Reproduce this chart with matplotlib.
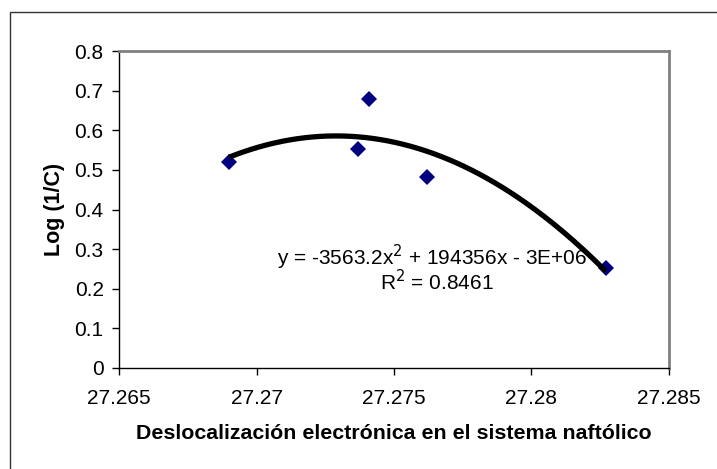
import matplotlib.pyplot as plt
import matplotlib.patches as patches
import numpy as np

plt.rcParams['font.family'] = ['Liberation Sans', 'DejaVu Sans']

# Deslocalización electrónica vs Log (1/C)
deslocalizacion = [27.2690, 27.2737, 27.2741, 27.2762, 27.2827]
log_inv_c = [0.521, 0.554, 0.679, 0.482, 0.252]

ecuacion = 'y = -3563.2x$^2$ + 194356x - 3E+06'
r2_texto = 'R$^2$ = 0.8461'
xticks = [27.265, 27.27, 27.275, 27.28, 27.285]
xtick_labels = ['27.265', '27.27', '27.275', '27.28', '27.285']
yticks = [0, 0.1, 0.2, 0.3, 0.4, 0.5, 0.6, 0.7, 0.8]
ytick_labels = ['0', '0.1', '0.2', '0.3', '0.4', '0.5', '0.6', '0.7', '0.8']

fig = plt.figure(figsize=(7.17, 4.69), dpi=100)
ax = fig.add_axes([0.166, 0.216, 0.767, 0.6746])

# marco exterior del grafico
fig.patches.append(patches.Rectangle((10 / 717, -0.1), 1.2, 1 - 12 / 469 + 0.1,
                                     transform=fig.transFigure, fill=False,
                                     edgecolor='#333333', linewidth=1.0))

# linea de tendencia polinomica de orden 2
x = np.array(deslocalizacion)
y = np.array(log_inv_c)
xc = x - x.mean()
coef = np.polyfit(xc, y, 2)
xs = np.linspace(x.min(), x.max(), 200)
ax.plot(xs, np.polyval(coef, xs - x.mean()), color='black', linewidth=3.8,
        solid_capstyle='butt', zorder=3)

ax.plot(deslocalizacion, log_inv_c, linestyle='none', marker='D',
        markersize=8, color='#000080', markeredgewidth=0, zorder=2)

ax.text(432, 257, ecuacion, transform=None, fontsize=15, ha='center', va='center')
ax.text(437, 282, r2_texto, transform=None, fontsize=15, ha='center', va='center')

ax.set_xlim(27.265, 27.285)
ax.set_ylim(0, 0.8)
ax.set_xticks(xticks)
ax.set_xticklabels(xtick_labels)
ax.set_yticks(yticks)
ax.set_yticklabels(ytick_labels)
ax.tick_params(direction='out', length=5, width=1, labelsize=15)
ax.tick_params(axis='x', pad=10)
ax.tick_params(axis='y', pad=6)

for lado in ['top', 'right']:
    ax.spines[lado].set_color('#808080')
    ax.spines[lado].set_linewidth(2)
for lado in ['left', 'bottom']:
    ax.spines[lado].set_color('black')
    ax.spines[lado].set_linewidth(1)

ax.set_xlabel('Deslocalización electrónica en el sistema naftólico',
              fontsize=15.4, fontweight='bold', labelpad=12)
ax.set_ylabel('Log (1/C)', fontsize=15.5, fontweight='bold', labelpad=7)

# los textos se colocan en pixeles, con origen abajo
for t in ax.texts:
    px, py = t.get_position()
    t.set_position((px, 469 - py))

fig.savefig('out.png', dpi=100)
